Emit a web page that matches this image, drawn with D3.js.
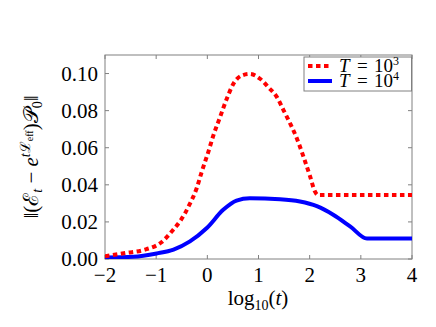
<!DOCTYPE html>
<html>
<head>
<meta charset="utf-8">
<script src="https://cdn.jsdelivr.net/npm/d3@7"></script>
<style>
  body { margin: 0; background: #fff; }
  text { font-family: "Liberation Serif", "Times New Roman", serif; }
</style>
</head>
<body>
<div id="chart"></div>
<script>
// log10(t) sample points and the two error curves
const xT3 = [-2, -1.58, -1.25, -0.89, -0.66, -0.53, -0.44, -0.34, -0.21, -0.11, 0.02, 0.12, 0.25, 0.38, 0.51, 0.67, 0.83, 1.03, 1.19, 1.36, 1.49, 1.62, 1.75, 1.88, 2.01, 2.1, 2.16, 3, 4];
const yT3 = [0.0015, 0.0033, 0.0048, 0.0092, 0.0160, 0.0205, 0.0245, 0.0298, 0.0380, 0.0470, 0.0578, 0.0668, 0.0766, 0.0864, 0.0945, 0.0989, 0.0998, 0.0972, 0.0927, 0.0873, 0.0802, 0.0730, 0.0650, 0.0551, 0.0444, 0.0366, 0.0345, 0.0345, 0.0345];
const xT4 = [-2, -1.45, -0.99, -0.66, -0.34, -0.01, 0.31, 0.57, 0.83, 1.42, 1.81, 2.14, 2.46, 2.79, 3.12, 3.5, 4];
const yT4 = [0.0008, 0.0012, 0.0030, 0.0051, 0.0095, 0.0167, 0.0265, 0.0315, 0.0327, 0.0322, 0.0310, 0.0285, 0.0239, 0.0176, 0.0110, 0.0110, 0.0110];
const xTicks = [-2, -1, 0, 1, 2, 3, 4];
const yTicks = [0, 0.02, 0.04, 0.06, 0.08, 0.10];
const legendBase = ["10", "10"];
const legendExp = ["3", "4"];

const width = 436, height = 327;
const margin = { left: 105, right: 24, top: 55, bottom: 68 };
const iw = width - margin.left - margin.right;
const ih = height - margin.top - margin.bottom;

const svg = d3.select("#chart").append("svg")
    .attr("width", width)
    .attr("height", height);

const x = d3.scaleLinear().domain([-2, 4]).range([margin.left, margin.left + iw]);
const y = d3.scaleLinear().domain([0, 0.11]).range([margin.top + ih, margin.top]);

const axisColor = "#808080";

// frame
svg.append("rect")
    .attr("x", margin.left).attr("y", margin.top)
    .attr("width", iw).attr("height", ih)
    .attr("fill", "none").attr("stroke", axisColor).attr("stroke-width", 1);

// ticks on all four sides, pointing inward
const tickLen = 4;
xTicks.forEach(function(t) {
    svg.append("line").attr("x1", x(t)).attr("x2", x(t))
        .attr("y1", margin.top + ih).attr("y2", margin.top + ih - tickLen)
        .attr("stroke", axisColor);
    svg.append("line").attr("x1", x(t)).attr("x2", x(t))
        .attr("y1", margin.top).attr("y2", margin.top + tickLen)
        .attr("stroke", axisColor);
    svg.append("text")
        .attr("x", x(t)).attr("y", margin.top + ih + 23)
        .attr("text-anchor", "middle")
        .style("font-size", "21px")
        .text(t < 0 ? "\u2212" + Math.abs(t) : t);
});
yTicks.forEach(function(t) {
    svg.append("line").attr("x1", margin.left).attr("x2", margin.left + tickLen)
        .attr("y1", y(t)).attr("y2", y(t))
        .attr("stroke", axisColor);
    svg.append("line").attr("x1", margin.left + iw).attr("x2", margin.left + iw - tickLen)
        .attr("y1", y(t)).attr("y2", y(t))
        .attr("stroke", axisColor);
    svg.append("text")
        .attr("x", margin.left - 7).attr("y", y(t)).attr("dy", "0.34em")
        .attr("text-anchor", "end")
        .style("font-size", "21px")
        .text(d3.format(".2f")(t));
});

// curves
const line = d3.line()
    .x(function(d) { return x(d[0]); })
    .y(function(d) { return y(d[1]); })
    .curve(d3.curveMonotoneX);

svg.append("defs").append("clipPath").attr("id", "clip")
  .append("rect").attr("x", margin.left).attr("y", margin.top - 5)
    .attr("width", iw).attr("height", ih + 5);

svg.append("path")
    .datum(d3.zip(xT4, yT4))
    .attr("d", line)
    .attr("fill", "none").attr("stroke", "#0000ff").attr("stroke-width", 4)
    .attr("clip-path", "url(#clip)");

svg.append("path")
    .datum(d3.zip(xT3, yT3))
    .attr("d", line)
    .attr("fill", "none").attr("stroke", "#ff0000").attr("stroke-width", 4)
    .attr("stroke-dasharray", "4.5,3.5")
    .attr("clip-path", "url(#clip)");

// legend
const lg = svg.append("g");
lg.append("rect")
    .attr("x", 304).attr("y", 57).attr("width", 107.5).attr("height", 34)
    .attr("fill", "#fff").attr("stroke", axisColor);
const styles = [
    { color: "#ff0000", dash: "4.5,3.5" },
    { color: "#0000ff", dash: null }
];
styles.forEach(function(s, i) {
    const yy = 66 + i * 15;
    lg.append("line")
        .attr("x1", 308).attr("x2", 332).attr("y1", yy).attr("y2", yy)
        .attr("stroke", s.color).attr("stroke-width", 4)
        .attr("stroke-dasharray", s.dash);
    lg.append("text").attr("x", 339).attr("y", yy + 6)
        .style("font-size", "19px").style("font-style", "italic").text("T");
    lg.append("text").attr("x", 357).attr("y", yy + 6)
        .style("font-size", "19px").text("=");
    lg.append("text").attr("x", 374).attr("y", yy + 6)
        .style("font-size", "19px").text(legendBase[i]);
    lg.append("text").attr("x", 393).attr("y", yy - 1)
        .style("font-size", "12px").text(legendExp[i]);
});

// axis labels
const xl = svg.append("text")
    .attr("x", 258).attr("y", 305)
    .attr("text-anchor", "middle")
    .style("font-size", "21px");
xl.append("tspan").text("log");
xl.append("tspan").attr("dy", 5).style("font-size", "14px").text("10");
xl.append("tspan").attr("dy", -5).text("(");
xl.append("tspan").style("font-style", "italic").text("t");
xl.append("tspan").text(")");

const yl = svg.append("text")
    .attr("transform", "translate(38,157) rotate(-90)")
    .attr("text-anchor", "middle")
    .style("font-size", "21px");
yl.append("tspan").text("\u2016(\u2130");
yl.append("tspan").attr("dy", 4).style("font-size", "14px").style("font-style", "italic").text("t");
yl.append("tspan").attr("dy", -4).text(" \u2212 ");
yl.append("tspan").style("font-style", "italic").text("e");
yl.append("tspan").attr("dy", -8).style("font-size", "14px").style("font-style", "italic").text("t");
yl.append("tspan").style("font-size", "14px").text("\u2112");
yl.append("tspan").attr("dy", 3).style("font-size", "10px").text("eff");
yl.append("tspan").attr("dy", 5).text(")\ud835\udcab");
yl.append("tspan").attr("dy", 4).style("font-size", "14px").text("0");
yl.append("tspan").attr("dy", -4).text("\u2016");
</script>
</body>
</html>
